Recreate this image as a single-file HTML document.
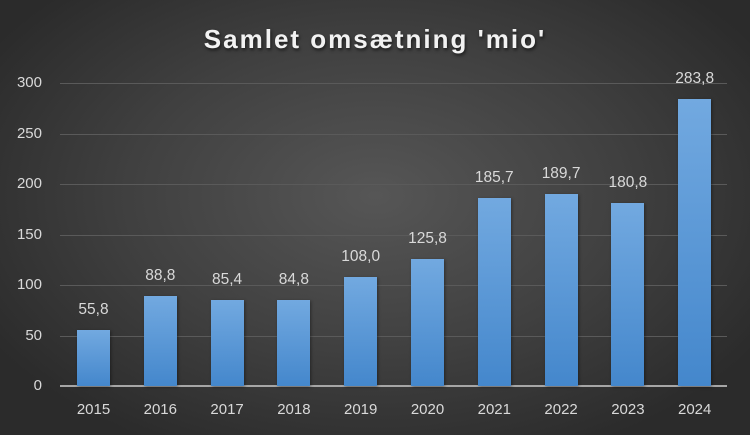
<!DOCTYPE html>
<html><head><style>
html,body{margin:0;padding:0}
body{width:750px;height:435px;overflow:hidden;background:radial-gradient(ellipse 60% 65% at 50% 45%,#565656 0%,#404040 55%,#2b2b2b 100%);font-family:"Liberation Sans",sans-serif;position:relative}
.t{position:absolute;left:0;width:750px;top:24px;text-align:center;color:#f2f2f2;font-weight:bold;font-size:26px;letter-spacing:2px;text-shadow:1px 2px 3px rgba(0,0,0,.6)}
.g{position:absolute;left:60px;width:667px;height:1px;background:#5a5a5a}
.yl{position:absolute;left:0;width:42px;text-align:right;color:#d9d9d9;font-size:15px}
.b{position:absolute;width:33px;background:linear-gradient(#72a9e0,#4487cc);box-shadow:1px 1px 3px rgba(0,0,0,.4)}
.v{position:absolute;width:80px;text-align:center;color:#d9d9d9;font-size:15.5px}
.x{position:absolute;width:60px;text-align:center;color:#d9d9d9;font-size:15px;top:401px}
</style></head><body>
<div class="t">Samlet omsætning 'mio'</div>
<div id="c"></div>
<script>
(function(){
var c=document.getElementById('c'),h='';
for(var i=0;i<=6;i++){var y=386-i*50.5;h+='<div class="g" style="top:'+y+'px;'+(i==0?'background:#a6a6a6;height:2px;top:385px':'')+'"></div><div class="yl" style="top:'+(y-9)+'px">'+(i*50)+'</div>';}
var d=[55.8,88.8,85.4,84.8,108.0,125.8,185.7,189.7,180.8,283.8];
for(var i=0;i<10;i++){var cx=93.5+i*66.8,ht=d[i]*1.01,bt=386-ht;
h+='<div class="b" style="left:'+(cx-16.5)+'px;top:'+bt.toFixed(1)+'px;height:'+ht.toFixed(1)+'px"></div>';
h+='<div class="v" style="left:'+(cx-40)+'px;top:'+(bt-29).toFixed(1)+'px">'+d[i].toFixed(1).replace('.',',')+'</div>';
h+='<div class="x" style="left:'+(cx-30)+'px">'+(2015+i)+'</div>';}
c.innerHTML=h;
})();
</script>
</body></html>
